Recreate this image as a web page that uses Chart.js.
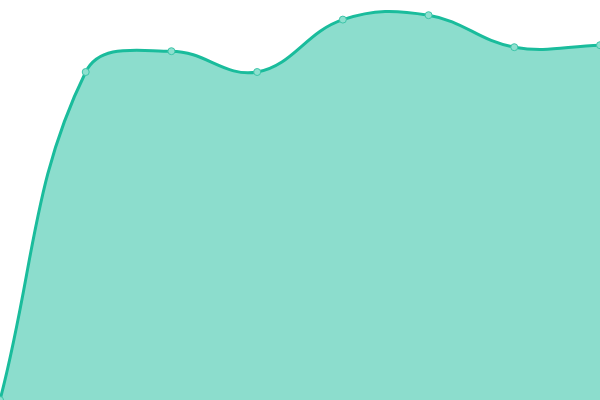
<!DOCTYPE html>
<html>
<head>
<meta charset="utf-8">
<script src="https://cdn.jsdelivr.net/npm/chart.js@4"></script>
<style>
  html, body { margin: 0; padding: 0; background: #fff; }
  #box { width: 600px; height: 400px; }
</style>
</head>
<body>
<div id="box"><canvas id="myChart"></canvas></div>
<script>
// values (y scale 0..100)
const labels = ['1', '2', '3', '4', '5', '6', '7', '8'];
const values = [0, 82, 87.2, 82, 95.1, 96.2, 88.2, 88.7];

const ctx = document.getElementById('myChart');

new Chart(ctx, {
  type: 'line',
  data: {
    labels: labels,
    datasets: [{
      data: values,
      fill: true,
      backgroundColor: 'rgba(26, 188, 156, 0.5)',
      borderColor: '#1abc9c',
      borderWidth: 3,
      tension: 0.4,
      pointRadius: 3.5,
      pointBackgroundColor: '#8de0cf',
      pointBorderColor: '#3cc4a8',
      pointBorderWidth: 1
    }]
  },
  options: {
    responsive: true,
    maintainAspectRatio: false,
    animation: false,
    layout: { padding: 0, autoPadding: false },
    plugins: {
      legend: { display: false },
      tooltip: { enabled: false }
    },
    scales: {
      x: { display: false },
      y: { display: false, min: 0, max: 100 }
    }
  }
});
</script>
</body>
</html>
